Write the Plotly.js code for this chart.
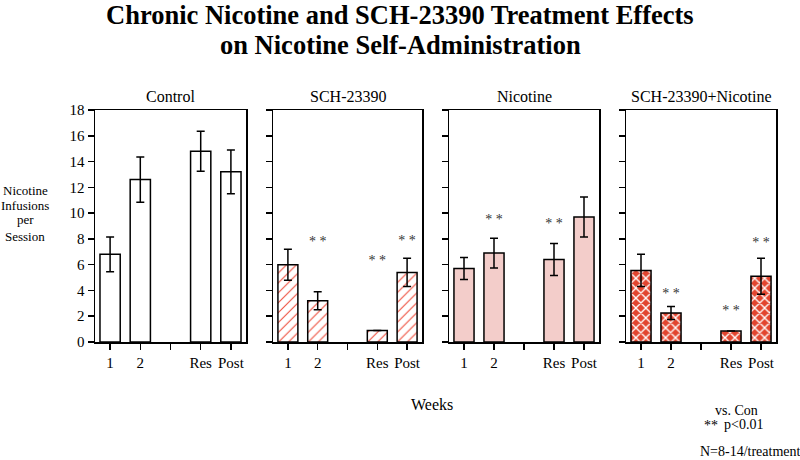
<!DOCTYPE html>
<html>
<head>
<meta charset="utf-8">
<script src="https://cdn.plot.ly/plotly-3.0.1.min.js"></script>
<style>html,body{margin:0;padding:0;background:#fff;}#chart{width:800px;height:460px;}</style>
</head>
<body>
<div id="chart"></div>
<script>
// ---- data ----
const weeks = ["1", "2", " ", "Res", "Post"];
const barWeeks = ["1", "2", "Res", "Post"];
const panelNames = ["Control", "SCH-23390", "Nicotine", "SCH-23390+Nicotine"];

const controlMean = [6.8, 12.6, 14.8, 13.2];
const controlErr  = [1.35, 1.75, 1.55, 1.7];
const schMean     = [6.0, 3.2, 0.9, 5.4];
const schErr      = [1.2, 0.7, 0, 1.1];
const nicMean     = [5.7, 6.9, 6.4, 9.7];
const nicErr      = [0.85, 1.15, 1.25, 1.55];
const schNicMean  = [5.55, 2.25, 0.85, 5.1];
const schNicErr   = [1.25, 0.5, 0, 1.4];

const schStarX    = ["2", "Res", "Post"];
const schStarY    = [7.7, 6.25, 7.8];
const nicStarX    = ["2", "Res"];
const nicStarY    = [9.4, 9.1];
const schNicStarX = ["2", "Res", "Post"];
const schNicStarY = [3.7, 2.35, 7.65];

const yTicks = [0, 2, 4, 6, 8, 10, 12, 14, 16, 18];

// ---- styling ----
const serif = "Liberation Serif";
const W = 800, H = 460;
const xDomains = [[95, 246], [273, 422], [449, 599], [626, 776]];
const yDom = [1 - 342 / H, 1 - 110 / H];

const means = [controlMean, schMean, nicMean, schNicMean];
const errs = [controlErr, schErr, nicErr, schNicErr];
const markers = [
  {color: "#ffffff", line: {color: "#000", width: 1.5}},
  {color: "#ffffff", line: {color: "#000", width: 1.5},
   pattern: {shape: "/", fgcolor: "#ee4a38", bgcolor: "#ffffff", size: 7, solidity: 0.15}},
  {color: "#f3cdca", line: {color: "#000", width: 1.5}},
  {color: "#e2452f", line: {color: "#000", width: 1.5},
   pattern: {shape: "x", fgcolor: "#ffffff", bgcolor: "#e2452f", size: 7, solidity: 0.35}}
];

const traces = [];
for (let i = 0; i < 4; i++) {
  const sfx = i === 0 ? "" : String(i + 1);
  traces.push({
    type: "bar", x: barWeeks, y: means[i],
    xaxis: "x" + sfx, yaxis: "y" + sfx,
    width: 0.67, marker: markers[i],
    error_y: {type: "data", array: errs[i], visible: true, color: "#000", thickness: 1.5, width: 4},
    hoverinfo: "skip", showlegend: false
  });
}
const stars = [[schStarX, schStarY, "2"], [nicStarX, nicStarY, "3"], [schNicStarX, schNicStarY, "4"]];
stars.forEach(s => {
  traces.push({
    type: "scatter", mode: "text", x: s[0], y: s[1], text: s[0].map(() => "* *"),
    textposition: "middle center",
    textfont: {family: serif, size: 14, color: "#333"},
    xaxis: "x" + s[2], yaxis: "y" + s[2], showlegend: false, hoverinfo: "skip", cliponaxis: false
  });
});

const layout = {
  width: W, height: H,
  margin: {l: 0, r: 0, t: 0, b: 0},
  paper_bgcolor: "#fff", plot_bgcolor: "#fff",
  showlegend: false,
  annotations: []
};

for (let i = 0; i < 4; i++) {
  const sfx = i === 0 ? "" : String(i + 1);
  layout["xaxis" + sfx] = {
    domain: [xDomains[i][0] / W, xDomains[i][1] / W],
    anchor: "y" + sfx,
    type: "category", categoryorder: "array", categoryarray: weeks,
    range: [-0.5, 4.5], fixedrange: true,
    showline: true, mirror: true, linecolor: "#000", linewidth: 1.5,
    ticks: "outside", ticklen: 6, tickwidth: 1.5, tickcolor: "#000",
    showgrid: false, zeroline: false,
    tickfont: {family: serif, size: 15, color: "#000"}
  };
  layout["yaxis" + sfx] = {
    domain: yDom, anchor: "x" + sfx,
    range: [0, 18], fixedrange: true,
    tickvals: yTicks,
    showline: true, mirror: true, linecolor: "#000", linewidth: 1.5,
    ticks: "outside", ticklen: 6, tickwidth: 1.5, tickcolor: "#000",
    showgrid: false, zeroline: false,
    showticklabels: i === 0,
    tickfont: {family: serif, size: 15, color: "#000"}
  };
  layout.annotations.push({
    text: panelNames[i], xref: "paper", yref: "paper",
    x: (xDomains[i][0] + xDomains[i][1]) / 2 / W, y: 1 - 96 / H,
    xanchor: "center", yanchor: "middle", showarrow: false,
    font: {family: serif, size: 16, color: "#000"}
  });
}

// title lines
[["Chronic Nicotine and SCH-23390 Treatment Effects", 15.5], ["on Nicotine Self-Administration", 45]].forEach(t => {
  layout.annotations.push({
    text: t[0], xref: "paper", yref: "paper", x: 0.5, y: 1 - t[1] / H,
    xanchor: "center", yanchor: "middle", showarrow: false,
    font: {family: serif, size: 26.5, color: "#000", weight: "bold"}
  });
});

const extra = [
  ["Nicotine", 25, 191, 13], ["Infusions", 25, 205, 13], ["per", 25, 219, 13], ["Session", 25, 236, 13],
  ["Weeks", 432, 404, 16], ["vs. Con", 736, 410, 14], ["**", 711, 425, 14], ["p<0.01", 743, 424, 14],
  ["N=8-14/treatment", 750, 451, 14]
];
extra.forEach(e => {
  layout.annotations.push({
    text: e[0], xref: "paper", yref: "paper", x: e[1] / W, y: 1 - e[2] / H,
    xanchor: "center", yanchor: "middle", showarrow: false,
    font: {family: serif, size: e[3], color: "#000"}
  });
});

Plotly.newPlot("chart", traces, layout, {staticPlot: true});
</script>
</body>
</html>
